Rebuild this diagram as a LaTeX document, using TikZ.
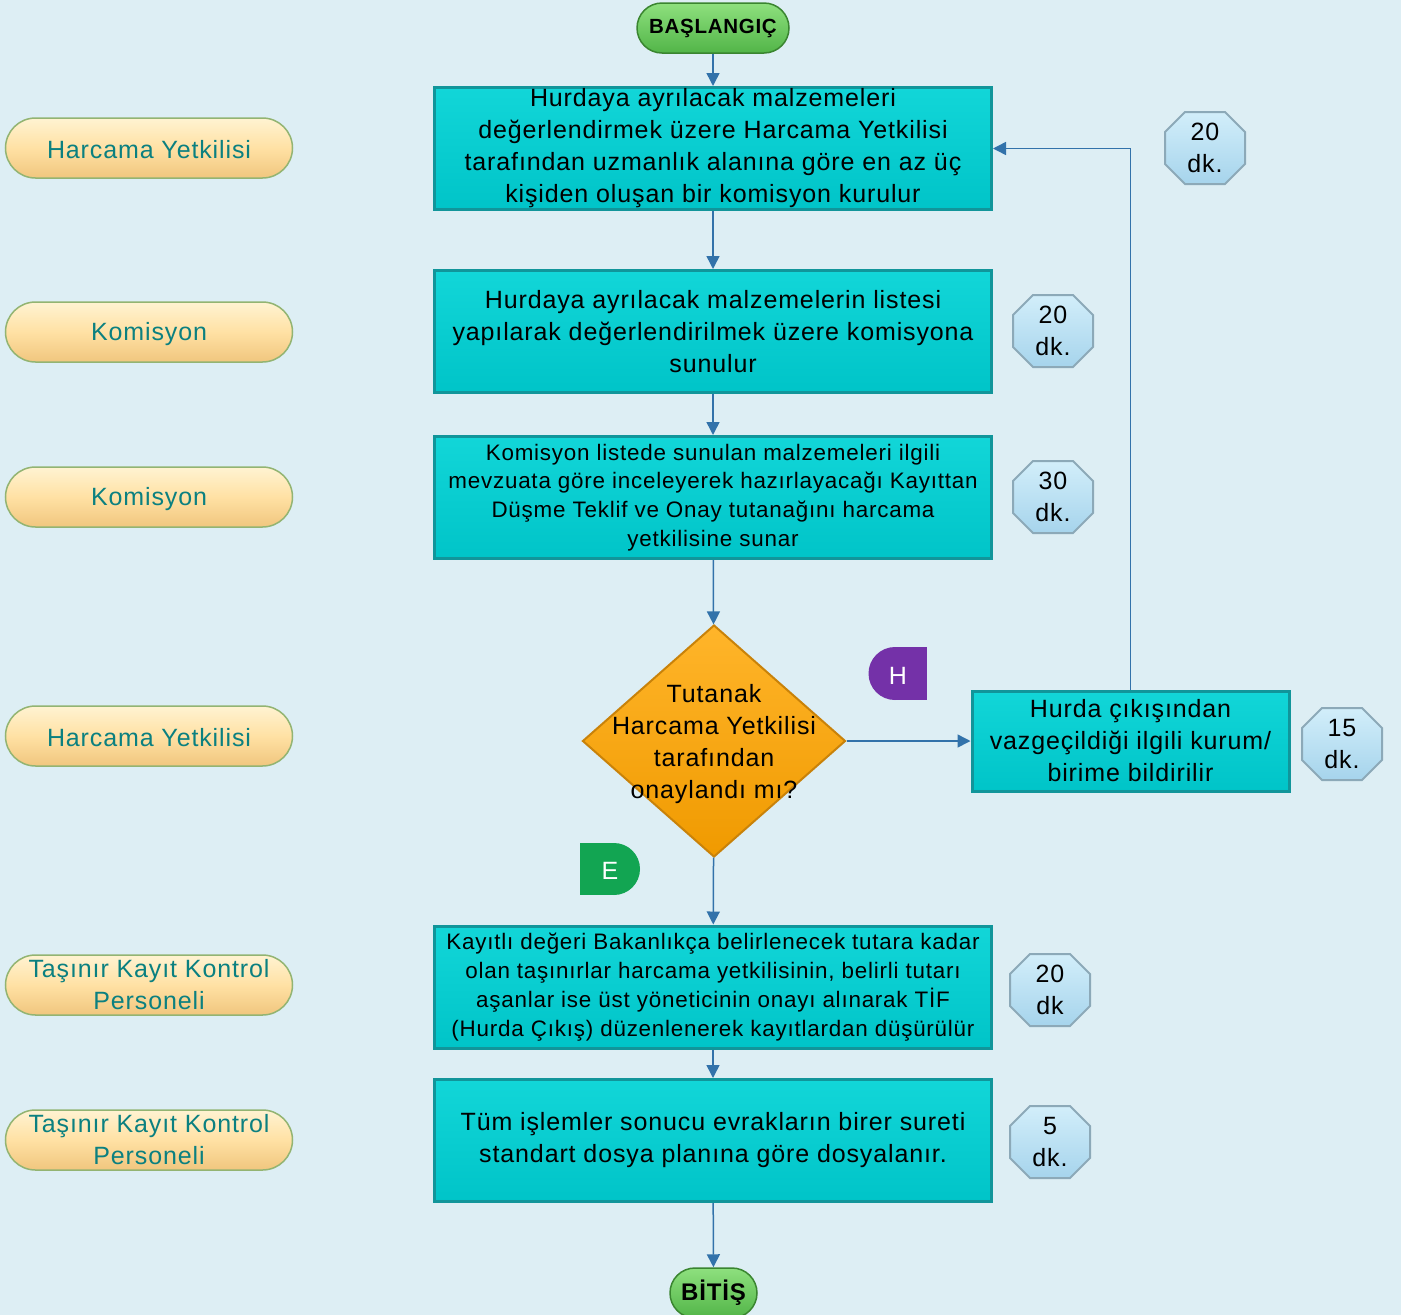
\documentclass[tikz,border=0pt]{standalone}
\usepackage{fontspec}
\setmainfont{Liberation Sans}[LetterSpace=3.5]
\usetikzlibrary{shapes.geometric,arrows.meta,calc}
\definecolor{bg}{HTML}{DDEEF4}
\definecolor{boxfill}{HTML}{00CED1}
\definecolor{boxtop}{HTML}{12D6D8}
\definecolor{boxbot}{HTML}{00C4C8}
\definecolor{boxedge}{HTML}{11959A}
\definecolor{pilltop}{HTML}{FFF3D2}
\definecolor{pillmid}{HTML}{FFE1A4}
\definecolor{pillbot}{HTML}{F0C67E}
\definecolor{pilledge}{HTML}{93B472}
\definecolor{pilltext}{HTML}{0B8080}
\definecolor{octtop}{HTML}{D2EEFA}
\definecolor{octbot}{HTML}{A6D4EC}
\definecolor{octedge}{HTML}{8CA9B8}
\definecolor{termtop}{HTML}{8EE07E}
\definecolor{termbot}{HTML}{52B548}
\definecolor{termedge}{HTML}{3A8530}
\definecolor{dectop}{HTML}{FFB52A}
\definecolor{decbot}{HTML}{F09A00}
\definecolor{decedge}{HTML}{C98209}
\definecolor{arrowc}{HTML}{3272AA}
\definecolor{hpurple}{HTML}{7431A8}
\definecolor{egreen}{HTML}{12A552}
\tikzset{
  procbox/.style={rectangle, draw=boxedge, line width=3pt, top color=boxtop, bottom color=boxbot,
    minimum width=557pt, minimum height=122pt, inner sep=0pt, align=center,
    font=\fontsize{25}{32}\selectfont, execute at begin node={\rule{0pt}{22pt}}},
  smalltext/.style={font=\fontsize{22.4}{28.8}\selectfont},
  rolepill/.style={rectangle, rounded corners=30pt, draw=pilledge, line width=1.5pt,
    top color=pilltop, bottom color=pillbot, middle color=pillmid,
    minimum width=287pt, minimum height=60pt, inner sep=0pt, align=center,
    text=pilltext, font=\fontsize{25}{32}\selectfont, execute at begin node={\rule{0pt}{21.5pt}}},
  termpill/.style={rectangle, rounded corners=25pt, draw=termedge, line width=1.5pt,
    top color=termtop, bottom color=termbot, minimum height=50pt, inner sep=0pt,
    font=\bfseries},
  octshape/.style={draw=octedge, line width=2pt, top color=octtop, bottom color=octbot},
  octtext/.style={inner sep=0pt, align=center, font=\fontsize{25}{32}\selectfont},
  decshape/.style={diamond, draw=decedge, line width=2pt, top color=dectop, bottom color=decbot,
    minimum width=263pt, minimum height=232pt, inner sep=0pt},
  badgetext/.style={text=white, inner sep=0pt, font=\fontsize{25}{28}\selectfont},
  arr/.style={draw=arrowc, line width=1.5pt, -{Triangle[width=13pt,length=13pt]}},
}
\newcommand\octnode[4]{%
  \path[octshape, shift={(#2,#3)}] (-20,-36) -- (20,-36) -- (40,-16) -- (40,16) -- (20,36)
     -- (-20,36) -- (-40,16) -- (-40,-16) -- cycle;
  \node[octtext] (#1) at (#2,#3) {#4};}
\begin{document}
\begin{tikzpicture}[x=1pt, y=-1pt]
\fill[bg] (0,0) rectangle (1401,1315);
\useasboundingbox (0,0) rectangle (1401,1315);

% terminals
\node[termpill, minimum width=152pt, font=\bfseries\fontsize{20.5}{24}\selectfont] (start) at (713,28) {BAŞLANGIÇ};
\node[termpill, minimum width=87pt, font=\bfseries\fontsize{24}{28}\selectfont] (end) at (713.5,1293) {BİTİŞ};

% process boxes
\node[procbox] (b1) at (713,148.5) {Hurdaya ayrılacak malzemeleri\\değerlendirmek üzere Harcama Yetkilisi\\tarafından uzmanlık alanına göre en az üç\\kişiden oluşan bir komisyon kurulur};
\node[procbox] (b2) at (713,331.5) {Hurdaya ayrılacak malzemelerin listesi\\yapılarak değerlendirilmek üzere komisyona\\sunulur};
\node[procbox, smalltext] (b3) at (713,497.5) {Komisyon listede sunulan malzemeleri ilgili\\mevzuata göre inceleyerek hazırlayacağı Kayıttan\\Düşme Teklif ve Onay tutanağını harcama\\yetkilisine sunar};
\node[decshape, label={[align=center, yshift=-3pt, font=\fontsize{25}{32}\selectfont]center:Tutanak\\Harcama Yetkilisi\\tarafından\\onaylandı mı?}] (q) at (714,741) {};
\node[procbox, smalltext] (b4) at (713,987) {Kayıtlı değeri Bakanlıkça belirlenecek tutara kadar\\olan taşınırlar harcama yetkilisinin, belirli tutarı\\aşanlar ise üst yöneticinin onayı alınarak TİF\\(Hurda Çıkış) düzenlenerek kayıtlardan düşürülür};
\node[procbox] (b5) at (713,1140.5) {Tüm işlemler sonucu evrakların birer sureti\\standart dosya planına göre dosyalanır.};
\node[procbox, minimum width=317pt, minimum height=100pt] (bf) at (1130.5,741) {Hurda çıkışından\\vazgeçildiği ilgili kurum/\\birime bildirilir};

% role pills
\node[rolepill] (r1) at (149,148) {Harcama Yetkilisi};
\node[rolepill] (r2) at (149,332) {Komisyon};
\node[rolepill] (r3) at (149,497) {Komisyon};
\node[rolepill] (r4) at (149,736) {Harcama Yetkilisi};
\node[rolepill] (r5) at (149,985) {Taşınır Kayıt Kontrol\\Personeli};
\node[rolepill] (r6) at (149,1140) {Taşınır Kayıt Kontrol\\Personeli};

% time octagons
\octnode{t1}{1205}{148}{20\\dk.}
\octnode{t2}{1053}{331}{20\\dk.}
\octnode{t3}{1053}{497}{30\\dk.}
\octnode{t4}{1342}{744}{15\\dk.}
\octnode{t5}{1050}{990}{20\\dk}
\octnode{t6}{1050}{1142}{5\\dk.}

% badges
\fill[hpurple] (895,673.5) circle (26.5);
\fill[hpurple] (895,647) rectangle (927,700);
\node[badgetext] (bh) at (898,676) {H};
\fill[egreen] (614,869) circle (26);
\fill[egreen] (580,843) rectangle (614,895);
\node[badgetext] (be) at (610,871) {E};

% connectors
\draw[arr] (start) -- (b1);
\draw[arr] (b1) -- (b2);
\draw[arr] (b2) -- (b3);
\draw[arr] (b3) -- (q);
\draw[arr] (q) -- (b4);
\draw[arr] (b4) -- (b5);
\draw[arr] (b5) -- (end);
\draw[arr] (q) -- (bf);
\draw[arr] (bf.north) |- (b1.east);
\end{tikzpicture}
\end{document}
